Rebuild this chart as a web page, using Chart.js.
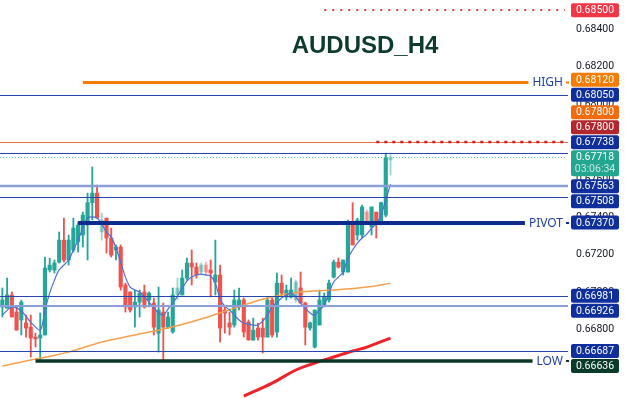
<!DOCTYPE html>
<html>
<head>
<meta charset="utf-8">
<script src="https://cdn.jsdelivr.net/npm/chart.js@4.4.1/dist/chart.umd.min.js"></script>
<style>
    html, body { margin: 0; padding: 0; background: #ffffff; }
    #wrap { width: 625px; height: 398px; position: relative; }
</style>
</head>
<body>
<div id="wrap"><canvas id="chart"></canvas></div>
<script>
// AUDUSD H4 candles (one entry per bar)
const opens = [
    0.66921, 0.66915, 0.66985, 0.66894, 0.66852, 0.66836, 0.66814, 0.66761, 0.66756, 0.66772,
    0.67118, 0.67118, 0.67160, 0.67277, 0.67171, 0.67224, 0.67267, 0.67304, 0.67357, 0.67476,
    0.67527, 0.67320, 0.67394, 0.67288, 0.67224, 0.67240, 0.67038, 0.67001, 0.66921, 0.66947,
    0.67001, 0.66958, 0.66942, 0.66782, 0.66894, 0.66814, 0.66788, 0.66985, 0.66985, 0.67075,
    0.67155, 0.67134, 0.67107, 0.67144, 0.67118, 0.67054, 0.67091, 0.66905, 0.66836, 0.66825,
    0.66921, 0.66958, 0.66841, 0.66745, 0.66809, 0.66809, 0.66761, 0.66958, 0.66788, 0.67048,
    0.66974, 0.66974, 0.66958, 0.67022, 0.66942, 0.66809, 0.66708, 0.66825, 0.66931, 0.66958,
    0.67080, 0.67160, 0.67107, 0.67107, 0.67368, 0.67304, 0.67304, 0.67426, 0.67346, 0.67426,
    0.67368, 0.67410, 0.67703
];
const highs = [
    0.67022, 0.67075, 0.67001, 0.66921, 0.66958, 0.66878, 0.66878, 0.66782, 0.66889, 0.67187,
    0.67181, 0.67171, 0.67320, 0.67394, 0.67304, 0.67394, 0.67373, 0.67426, 0.67527, 0.67666,
    0.67570, 0.67421, 0.67394, 0.67341, 0.67251, 0.67251, 0.67048, 0.67001, 0.67011, 0.67011,
    0.67038, 0.67001, 0.66969, 0.67027, 0.66942, 0.66894, 0.67022, 0.67075, 0.67118, 0.67181,
    0.67224, 0.67155, 0.67155, 0.67160, 0.67171, 0.67277, 0.67144, 0.66921, 0.66894, 0.67011,
    0.67022, 0.66969, 0.66852, 0.66862, 0.66836, 0.66862, 0.66974, 0.66969, 0.67102, 0.67091,
    0.67038, 0.67075, 0.67064, 0.67107, 0.66947, 0.66841, 0.66905, 0.67011, 0.66995, 0.67064,
    0.67171, 0.67181, 0.67171, 0.67384, 0.67476, 0.67394, 0.67463, 0.67437, 0.67453, 0.67426,
    0.67479, 0.67740, 0.67740
];
const lows = [
    0.66868, 0.66915, 0.66868, 0.66798, 0.66772, 0.66761, 0.66655, 0.66708, 0.66639, 0.66772,
    0.67107, 0.67102, 0.67155, 0.67160, 0.67144, 0.67213, 0.67213, 0.67240, 0.67171, 0.67384,
    0.67394, 0.67277, 0.67208, 0.67187, 0.67171, 0.67011, 0.66894, 0.66894, 0.66814, 0.66868,
    0.66915, 0.66921, 0.66772, 0.66681, 0.66639, 0.66809, 0.66782, 0.66958, 0.66985, 0.67064,
    0.67038, 0.67075, 0.67091, 0.67091, 0.66974, 0.66985, 0.66735, 0.66782, 0.66772, 0.66814,
    0.66905, 0.66761, 0.66745, 0.66745, 0.66745, 0.66676, 0.66761, 0.66761, 0.66761, 0.66974,
    0.66958, 0.66969, 0.66947, 0.66942, 0.66719, 0.66798, 0.66703, 0.66825, 0.66921, 0.66947,
    0.67075, 0.67128, 0.67091, 0.67107, 0.67251, 0.67277, 0.67288, 0.67368, 0.67304, 0.67288,
    0.67357, 0.67400, 0.67623
];
const closes = [
    0.66958, 0.66985, 0.66868, 0.66798, 0.66947, 0.66809, 0.66756, 0.66751, 0.66772, 0.67128,
    0.67144, 0.67155, 0.67277, 0.67171, 0.67277, 0.67341, 0.67357, 0.67410, 0.67476, 0.67527,
    0.67394, 0.67384, 0.67288, 0.67197, 0.67240, 0.67027, 0.66921, 0.66905, 0.66947, 0.66995,
    0.66921, 0.66995, 0.66814, 0.66905, 0.66814, 0.66868, 0.66985, 0.67022, 0.67075, 0.67155,
    0.67134, 0.67091, 0.67144, 0.67107, 0.67102, 0.67091, 0.66809, 0.66889, 0.66814, 0.66958,
    0.66958, 0.66788, 0.66745, 0.66798, 0.66761, 0.66761, 0.66958, 0.66772, 0.67048, 0.66995,
    0.67011, 0.67011, 0.67054, 0.66942, 0.66814, 0.66836, 0.66905, 0.66958, 0.66974, 0.67048,
    0.67160, 0.67134, 0.67171, 0.67368, 0.67251, 0.67384, 0.67453, 0.67373, 0.67453, 0.67368,
    0.67476, 0.67713, 0.67718
];
// bars drawn faded in the picture
const fadedBars = [21, 37, 42, 43, 62, 77, 82];

// fast moving average (blue), read where visible
const fastMa = [
    0.66878, null, 0.66921, null, 0.66900, null, 0.66841, null, 0.66798, 0.66905,
    0.66995, 0.67064, 0.67118, null, 0.67171, 0.67224, 0.67277, 0.67341, 0.67394, 0.67400,
    0.67394, 0.67362, 0.67320, 0.67293, 0.67235, 0.67160, 0.67080, 0.67027, 0.67011, 0.67001,
    0.66974, 0.66947, 0.66915, 0.66889, 0.66878, 0.66910, 0.66942, 0.66979, 0.67022, 0.67059,
    0.67080, 0.67091, 0.67096, 0.67091, 0.67086, 0.67048, 0.66963, 0.66926, 0.66905, 0.66878,
    0.66852, 0.66836, 0.66830, 0.66825, 0.66825, 0.66846, 0.66878, 0.66921, 0.66947, 0.66969,
    0.66985, 0.66995, 0.66974, 0.66942, 0.66915, 0.66889, 0.66878, 0.66905, 0.66931, 0.66995,
    0.67054, 0.67080, 0.67107, 0.67181, 0.67224, 0.67261, 0.67288, 0.67309, 0.67341, 0.67362,
    0.67410, 0.67490, 0.67575
];
// slow moving average (orange)
const slowMaAt = [0, 7, 14, 21, 28, 35, 42, 49, 56, 63, 70, 77, 82];
const slowMa = [0.66607, 0.66644, 0.66681, 0.66735, 0.66772, 0.66809, 0.66857, 0.66915, 0.66969, 0.67001, 0.67011, 0.67027, 0.67048];
// long moving average (red)
const longMaAt = [51, 57, 62, 66, 70, 74, 77, 82];
const longMa = [0.66447, 0.66516, 0.66586, 0.66623, 0.66655, 0.66687, 0.66708, 0.66756];

// horizontal levels
const levelPrices = [0.685, 0.6812, 0.6805, 0.678, 0.678, 0.67738, 0.67718, 0.67563, 0.67508, 0.6737, 0.66981, 0.66926, 0.66687, 0.66636];
const levelNames = ['', 'HIGH', '', '', '', '', '', '', '', 'PIVOT', '', '', '', 'LOW'];
const levelFrom = [68, 17, null, null, 79, null, null, null, null, 16, null, null, null, 7];
const currentLevel = 6;
const countdown = '03:06:34';

// axis
const yRange = [0.66437, 0.68554];
const yStep = 0.002;
const slotCount = 120;
const categories = Array.from({ length: slotCount }, (_, i) => String(i));

const title = 'AUDUSD_H4';

// styles
const upColor = '#26a69a';
const downColor = '#ef5350';
const upFaded = 'rgba(38,166,154,0.45)';
const downFaded = 'rgba(239,83,80,0.45)';
const levelStyles = [
    { line: '#e53935', width: 2, dash: [2, 6], box: '#f23645' },
    { line: '#f57c00', width: 3, box: '#f57c00' },
    { line: '#2847ad', width: 1, box: '#0f2f9c' },
    { line: '#f0703c', width: 1, box: '#f26b0f' },
    { line: '#c0282d', width: 2.5, dash: [3, 5], box: '#b3262b' },
    { line: '#2847ad', width: 1, box: '#0f2f9c' },
    { line: '#4dbfae', width: 1, dash: [1, 2], box: '#22a68f' },
    { line: '#8c9fd8', width: 2.5, box: '#0f2f9c' },
    { line: '#2847ad', width: 1, box: '#0f2f9c' },
    { line: '#0d2b8c', width: 4, box: '#0f2f9c' },
    { line: '#2847ad', width: 1, box: '#0f2f9c' },
    { line: '#8c9fd8', width: 2, box: '#0f2f9c' },
    { line: '#2847ad', width: 1, box: '#0f2f9c' },
    { line: '#0b3526', width: 3.5, box: '#0a3a2a' }
];

const candleColors = opens.map((o, i) => {
    const up = closes[i] >= o;
    const faded = fadedBars.includes(i);
    if (up) return faded ? upFaded : upColor;
    return faded ? downFaded : downColor;
});

// Draw horizontal levels, their names, price boxes and the title
const overlay = {
    id: 'overlay',
    afterDatasetsDraw(chart) {
        const { ctx, chartArea, scales: { x, y } } = chart;
        ctx.save();
        levelPrices.forEach((p, i) => {
            const st = levelStyles[i];
            const py = Math.round(y.getPixelForValue(p)) + (st.width % 2 === 1 ? 0.5 : 0);
            const x0 = levelFrom[i] == null ? chartArea.left : x.getPixelForValue(levelFrom[i]);
            let x1 = st.dash ? chartArea.right - 3 : chartArea.right;
            if (levelNames[i]) {
                ctx.font = '12px "Noto Sans"';
                const w = ctx.measureText(levelNames[i]).width;
                const textRight = chartArea.right - 5;
                x1 = textRight - w - 4;
                ctx.fillStyle = '#1d3fa6';
                ctx.textAlign = 'right';
                ctx.textBaseline = 'middle';
                ctx.fillText(levelNames[i], textRight, py + 0.5);
                ctx.fillStyle = st.line;
                ctx.fillRect(chartArea.right - 2, py - 1, 3, 2);
            }
            ctx.strokeStyle = st.line;
            ctx.lineWidth = st.width;
            ctx.setLineDash(st.dash || []);
            ctx.beginPath();
            ctx.moveTo(x0, py);
            ctx.lineTo(x1, py);
            ctx.stroke();
        });
        ctx.restore();
    },
    afterDraw(chart) {
        const { ctx, chartArea, scales: { y } } = chart;
        ctx.save();

        // title
        ctx.fillStyle = '#0d3b2c';
        ctx.font = 'bold 24px "Liberation Sans"';
        ctx.textAlign = 'center';
        ctx.textBaseline = 'middle';
        ctx.fillText(title, 365, 46);

        // price boxes, pushed apart around the current price box
        const items = levelPrices.map((p, i) => {
            const target = y.getPixelForValue(p);
            const h = i === currentLevel ? 26 : 14;
            const top = i === currentLevel ? target - 7 : target - h / 2;
            return { i, target, h, top };
        });
        items.sort((a, b) => a.target - b.target || a.i - b.i);
        const pin = items.findIndex(it => it.i === currentLevel);
        for (let k = pin - 1; k >= 0; k--) {
            const limit = items[k + 1].top - 1;
            items[k].top = Math.min(items[k].top, limit - items[k].h);
        }
        for (let k = pin + 1; k < items.length; k++) {
            const limit = items[k - 1].top + items[k - 1].h + 1;
            items[k].top = Math.max(items[k].top, limit);
        }

        const bx = chartArea.right + 3;
        const bw = 48;
        items.forEach(it => {
            ctx.fillStyle = levelStyles[it.i].box;
            ctx.beginPath();
            if (ctx.roundRect) ctx.roundRect(bx, it.top, bw, it.h, 2);
            else ctx.rect(bx, it.top, bw, it.h);
            ctx.fill();
            ctx.fillStyle = '#ffffff';
            ctx.font = '10.5px Roboto';
            ctx.textAlign = 'center';
            ctx.textBaseline = 'middle';
            ctx.fillText(levelPrices[it.i].toFixed(5), bx + bw / 2, it.top + 7.5);
            if (it.i === currentLevel) {
                ctx.fillStyle = 'rgba(255,255,255,0.75)';
                ctx.fillText(countdown, bx + bw / 2, it.top + 19.5);
            }
        });
        ctx.restore();
    }
};

new Chart(document.getElementById('chart'), {
    data: {
        labels: categories,
        datasets: [
            {
                type: 'line',
                data: fastMa,
                borderColor: '#4f6fd6',
                borderWidth: 1.2,
                pointRadius: 0,
                spanGaps: true,
                tension: 0.3,
                order: 1
            },
            {
                type: 'line',
                data: slowMaAt.map((idx, k) => ({ x: categories[idx], y: slowMa[k] })),
                borderColor: '#f7a04b',
                borderWidth: 1.5,
                pointRadius: 0,
                tension: 0.4,
                order: 1
            },
            {
                type: 'line',
                data: longMaAt.map((idx, k) => ({ x: categories[idx], y: longMa[k] })),
                borderColor: '#f0222a',
                borderWidth: 3,
                pointRadius: 0,
                tension: 0.4,
                order: 1
            },
            {
                type: 'bar',
                data: highs.map((h, i) => [lows[i], h]),
                backgroundColor: candleColors,
                barThickness: 1.2,
                grouped: false,
                order: 3
            },
            {
                type: 'bar',
                data: opens.map((o, i) => [o, closes[i]]),
                backgroundColor: candleColors,
                barThickness: 3.5,
                minBarLength: 1,
                grouped: false,
                order: 2
            }
        ]
    },
    options: {
        responsive: true,
        maintainAspectRatio: false,
        animation: false,
        events: [],
        layout: { padding: 0, autoPadding: false },
        plugins: {
            legend: { display: false },
            tooltip: { enabled: false }
        },
        scales: {
            x: {
                display: false,
                offset: true,
                grid: { display: false }
            },
            y: {
                position: 'right',
                min: yRange[0],
                max: yRange[1],
                grid: { display: false, drawTicks: false },
                border: { display: false },
                afterFit: scale => {
                    scale.width = 57;
                    scale.paddingTop = 0;
                    scale.paddingBottom = 0;
                },
                ticks: {
                    stepSize: yStep,
                    includeBounds: false,
                    padding: 8,
                    color: '#131722',
                    font: { family: 'Roboto', size: 10.5 },
                    callback: v => v.toFixed(5)
                }
            }
        }
    },
    plugins: [overlay]
});
</script>
</body>
</html>
